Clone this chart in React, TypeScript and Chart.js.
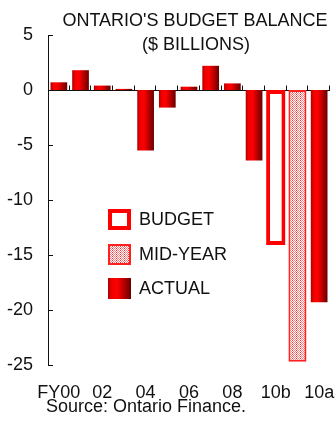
import React, { useEffect, useRef } from 'react';
import { Chart, registerables } from 'chart.js';

Chart.register(...registerables);

const categories = ['FY00', '01', '02', '03', '04', '05', '06', '07', '08', '09', '10b', '10m', '10a'];
const tickLabels = ['FY00', '', '02', '', '04', '', '06', '', '08', '', '10b', '', '10a'];
const actualValues = [0.7, 1.8, 0.4, 0.1, -5.5, -1.6, 0.3, 2.2, 0.6, -6.4, null, null, -19.3];
const budgetValues = [null, null, null, null, null, null, null, null, null, null, -14.1, null, null];
const midYearValues = [null, null, null, null, null, null, null, null, null, null, null, -24.7, null];
const yTickValues = [5, 0, -5, -10, -15, -20, -25];
const titleLines = ["ONTARIO'S BUDGET BALANCE", '($ BILLIONS)'];
const legendLabels = ['BUDGET', 'MID-YEAR', 'ACTUAL'];
const sourceText = 'Source: Ontario Finance.';

const FONT = "'Liberation Sans', Arial, Helvetica, sans-serif";
const ACTUAL_BAR_PCT = 0.77;

function makeGradient(ctx: CanvasRenderingContext2D, x0: number, x1: number) {
  const g = ctx.createLinearGradient(x0, 0, x1, 0);
  g.addColorStop(0, '#a80000');
  g.addColorStop(0.15, '#ee0000');
  g.addColorStop(0.4, '#ff0000');
  g.addColorStop(1, '#6a0000');
  return g;
}

function makePattern(ctx: CanvasRenderingContext2D) {
  const c = document.createElement('canvas');
  c.width = 4;
  c.height = 4;
  const p = c.getContext('2d')!;
  p.fillStyle = '#ffffff';
  p.fillRect(0, 0, 4, 4);
  for (let y = 0; y < 4; y++) {
    for (let x = 0; x < 4; x++) {
      if ((x + y) % 2 === 0) {
        p.fillStyle = (x + 2 * y) % 4 === 0 ? '#ff2a2a' : '#ff8080';
        p.fillRect(x, y, 1, 1);
      }
    }
  }
  return ctx.createPattern(c, 'repeat')!;
}

export default function App() {
  const ref = useRef<HTMLCanvasElement | null>(null);

  useEffect(() => {
    const canvas = ref.current!;
    const ctx2d = canvas.getContext('2d')!;
    const pattern = makePattern(ctx2d);

    const decor = {
      id: 'decor',
      beforeDatasetsDraw(chart: any) {
        const { ctx, chartArea, scales } = chart;
        const ys = scales.y;
        const y0 = Math.round(ys.getPixelForValue(0)) + 0.5;
        const n = categories.length;
        const w = (chartArea.right - chartArea.left) / n;
        ctx.save();
        ctx.strokeStyle = '#111';
        ctx.lineWidth = 1;
        ctx.beginPath();
        ctx.moveTo(chartArea.left, y0);
        ctx.lineTo(chartArea.right, y0);
        for (let i = 1; i <= n; i++) {
          const px = Math.round(chartArea.left + i * w) - 0.5;
          ctx.moveTo(px, y0);
          ctx.lineTo(px, y0 - 5);
        }
        yTickValues.forEach((v) => {
          const py = Math.round(ys.getPixelForValue(v)) + 0.5;
          ctx.moveTo(chartArea.left, py);
          ctx.lineTo(chartArea.left + 5, py);
        });
        ctx.stroke();
        ctx.restore();
      },
      afterDraw(chart: any) {
        const { ctx } = chart;
        ctx.save();
        ctx.fillStyle = '#111';
        ctx.font = `18px ${FONT}`;
        ctx.textAlign = 'center';
        ctx.textBaseline = 'middle';
        ctx.fillText(titleLines[0], 195, 21);
        ctx.fillText(titleLines[1], 196, 45);
        ctx.fillText(sourceText, 146, 407);

        // legend
        const bx = 108, bw = 23, bh = 21;
        const rows = [209, 244, 278];
        ctx.fillStyle = '#ffffff';
        ctx.fillRect(bx, rows[0], bw, bh);
        ctx.strokeStyle = '#ff0000';
        ctx.lineWidth = 4;
        ctx.strokeRect(bx + 2, rows[0] + 2, bw - 4, bh - 4);
        ctx.fillStyle = pattern;
        ctx.fillRect(bx, rows[1], bw, bh);
        ctx.lineWidth = 2;
        ctx.strokeStyle = '#ff2020';
        ctx.strokeRect(bx + 1, rows[1] + 1, bw - 2, bh - 2);
        ctx.fillStyle = makeGradient(ctx, bx, bx + bw);
        ctx.fillRect(bx, rows[2], bw, bh);

        ctx.fillStyle = '#111';
        ctx.textAlign = 'left';
        legendLabels.forEach((t, i) => ctx.fillText(t, 139, rows[i] + bh / 2 + 1));
        ctx.restore();
      },
    };

    const chart = new Chart(canvas, {
      type: 'bar',
      data: {
        labels: categories,
        datasets: [
          {
            label: legendLabels[2],
            data: actualValues as any,
            grouped: false,
            barPercentage: ACTUAL_BAR_PCT,
            categoryPercentage: 1,
            borderWidth: 0,
            backgroundColor: (c: any) => {
              const chartObj = c.chart;
              const xs = chartObj.scales?.x;
              if (!xs || !chartObj.chartArea || c.dataIndex === undefined) return '#dd0000';
              const center = xs.getPixelForValue(c.dataIndex);
              const w = ((chartObj.chartArea.right - chartObj.chartArea.left) / categories.length) * ACTUAL_BAR_PCT;
              return makeGradient(chartObj.ctx, center - w / 2, center + w / 2);
            },
          } as any,
          {
            label: legendLabels[0],
            data: budgetValues as any,
            grouped: false,
            barPercentage: 0.89,
            categoryPercentage: 1,
            backgroundColor: '#ffffff',
            borderColor: '#ff0000',
            borderWidth: 4,
            borderSkipped: false,
          } as any,
          {
            label: legendLabels[1],
            data: midYearValues as any,
            grouped: false,
            barPercentage: 0.83,
            categoryPercentage: 1,
            backgroundColor: pattern,
            borderColor: '#ff2020',
            borderWidth: 2,
            borderSkipped: false,
          } as any,
        ],
      },
      options: {
        responsive: false,
        animation: false,
        devicePixelRatio: 1,
        layout: { padding: { top: 35, right: 5, bottom: 0, left: 0 } },
        plugins: {
          legend: { display: false },
          title: { display: false },
          tooltip: { enabled: false },
        },
        scales: {
          x: {
            offset: true,
            grid: { display: false, drawTicks: false },
            border: { display: false },
            ticks: {
              autoSkip: false,
              maxRotation: 0,
              minRotation: 0,
              padding: 17,
              color: '#111',
              font: { family: FONT, size: 18 },
              callback: (_v: any, i: number) => tickLabels[i],
            },
            afterFit: (s: any) => {
              s.height = 58;
              s.paddingLeft = 0;
              s.paddingRight = 0;
            },
          },
          y: {
            min: -25,
            max: 5,
            grid: { display: false, drawTicks: false },
            border: { display: true, color: '#111', width: 1 },
            ticks: {
              stepSize: 5,
              padding: 15,
              color: '#111',
              font: { family: FONT, size: 18 },
            },
            afterFit: (s: any) => {
              s.width = 48;
              s.paddingTop = 0;
              s.paddingBottom = 0;
            },
          },
        },
      },
      plugins: [decor],
    });

    return () => chart.destroy();
  }, []);

  return (
    <div style={{ position: 'absolute', left: 0, top: 0, width: 335, height: 423, background: '#fff' }}>
      <canvas ref={ref} width={335} height={423} style={{ display: 'block', width: 335, height: 423 }} />
    </div>
  );
}
